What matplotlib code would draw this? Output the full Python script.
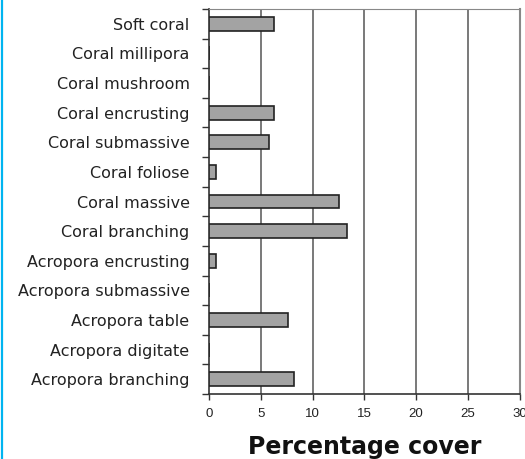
import matplotlib.pyplot as plt
import numpy as np
from matplotlib.lines import Line2D

categories = ['Acropora branching', 'Acropora digitate', 'Acropora table',
              'Acropora submassive', 'Acropora encrusting', 'Coral branching',
              'Coral massive', 'Coral foliose', 'Coral submassive',
              'Coral encrusting', 'Coral mushroom', 'Coral millipora',
              'Soft coral']
cover = [8.2, 0, 7.65, 0, 0.7, 13.3, 12.6, 0.7, 5.8, 6.3, 0, 0, 6.3]
xticks = [0, 5, 10, 15, 20, 25, 30]

BAR = '#A3A3A3'
EDGE = '#222222'
TEXT = '#222222'

plt.rcParams['font.family'] = ['Liberation Sans', 'DejaVu Sans']

fig = plt.figure(figsize=(5.25, 4.59), dpi=100)
ax = fig.add_axes([0.398, 0.1416, 0.592, 0.8388])

y = np.arange(len(categories))
for xv in xticks[1:]:
    ax.axvline(xv, color='#555555', linewidth=1.1, zorder=1)

ax.barh(y, cover, height=0.47, color=BAR, edgecolor=EDGE, linewidth=1.2, zorder=3)

ax.set_xlim(0, 30)
ax.set_ylim(-0.5, len(categories) - 0.5)
ax.set_xticks(xticks)
ax.set_xticklabels([str(v) for v in xticks], fontsize=9.5, color=TEXT)
ax.set_yticks(y)
ax.set_yticklabels(categories, fontsize=11.5, color=TEXT, family='DejaVu Sans')
ax.set_yticks(np.arange(-0.5, len(categories), 1), minor=True)
ax.tick_params(axis='y', which='major', length=0, pad=14)
ax.tick_params(axis='y', which='minor', length=5, width=1, color='#333333', direction='out')
ax.tick_params(axis='x', which='major', length=4, width=1, color='#333333', direction='out', pad=6)

ax.spines['left'].set_color('#333333')
ax.spines['bottom'].set_color('#333333')
ax.spines['left'].set_linewidth(1.2)
ax.spines['bottom'].set_linewidth(1.2)
ax.spines['top'].set_color('#888888')
ax.spines['right'].set_color('#888888')
ax.spines['right'].set_linewidth(1.5)

ax.set_xlabel('Percentage cover', fontsize=17, fontweight='bold', color='#111111',
              labelpad=11, family='DejaVu Sans')

# blue edge on the left of the picture
fig.add_artist(Line2D([0.003, 0.003], [0, 1], color='#00B4F0', linewidth=1.6,
                      transform=fig.transFigure))

fig.savefig('out.png', dpi=100)
